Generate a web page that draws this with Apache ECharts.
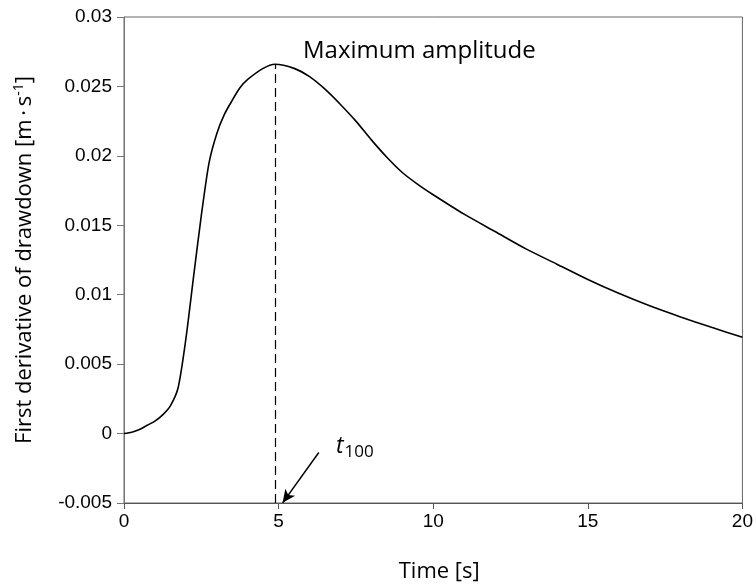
<!DOCTYPE html>
<html><head><meta charset="utf-8">
<script src="https://cdn.jsdelivr.net/npm/echarts@6/dist/echarts.min.js"></script>
<style>html,body{margin:0;padding:0;background:#fff}#c{width:756px;height:588px}</style>
</head><body><div id="c"></div>
<script>
var timeS = [0,0.25,0.5,0.75,1.0,1.25,1.5,1.75,2.0,2.25,2.5,2.75,3.0,3.25,3.5,3.75,4.0,4.5,4.88,5.5,6.0,6.5,7.0,7.5,8.0,8.5,9.0,9.5,10,11,12,13,14,15,16,17,18,19,20];
var deriv = [0,0.0001,0.0003,0.0006,0.0009,0.00135,0.0020,0.0033,0.0068,0.0113,0.0157,0.0195,0.0216,0.0230,0.0240,0.0249,0.0255,0.0263,0.0266,0.0263,0.0257,0.0248,0.0237,0.0225,0.02115,0.0199,0.0188,0.01795,0.0172,0.0158,0.01455,0.0133,0.0122,0.0111,0.0101,0.0092,0.0084,0.00765,0.00693];
var xTicks = [0,5,10,15,20];
var yTicks = [-0.005,0,0.005,0.01,0.015,0.02,0.025,0.03];
var peakT = 4.88, peakV = 0.0266;
var arrowFrom = [6.3,-0.00136], arrowTo = [5.13,-0.00499];

var data = timeS.map(function(t,i){return [t,deriv[i]];});
var chart = echarts.init(document.getElementById('c'));
var tickFont = {fontFamily:'Liberation Sans, Arial', fontSize:19, color:'#000'};
chart.setOption({
  animation:false,
  grid:{left:124, top:17, width:620, height:490, show:true, borderColor:'#666', borderWidth:1},
  xAxis:{type:'value', min:0, max:20, interval:5,
    name:'Time [s]', nameLocation:'middle', nameGap:58,
    nameTextStyle:{fontFamily:'Open Sans', fontSize:22, color:'#000', padding:[0,0,0,12]},
    axisLine:{onZero:false, lineStyle:{color:'#555'}},
    axisTick:{show:true, inside:false, length:6, lineStyle:{color:'#555'}},
    axisLabel:Object.assign({margin:9, formatter:function(v){return xTicks.indexOf(v)>=0?String(v):'';}}, tickFont),
    splitLine:{show:false}},
  yAxis:{type:'value', min:-0.005, max:0.03, interval:0.005,
    name:'{a|First derivative of drawdown [m\u2009\u00b7\u2009s}{s|-1}{a|]}', nameLocation:'middle', nameGap:86,
    nameTextStyle:{rich:{a:{fontFamily:'Open Sans', fontSize:22, color:'#000'}, s:{fontFamily:'Open Sans', fontSize:14, color:'#000', verticalAlign:'top', padding:[0,0,12,0]}}},
    axisLine:{onZero:false, lineStyle:{color:'#777'}},
    axisTick:{show:true, inside:false, length:7, lineStyle:{color:'#777'}},
    axisLabel:Object.assign({margin:12, formatter:function(v){
      var r = Math.round(v*1000)/1000; return yTicks.indexOf(r)>=0?String(r):'';}}, tickFont),
    splitLine:{show:false}},
  title:{text:'Maximum amplitude', left:298, top:34, textStyle:{fontFamily:'Open Sans', fontSize:24, fontWeight:'normal', color:'#000'}},
  graphic:[{type:'text', left:336, top:435, style:{rich:{t:{fontFamily:'Open Sans', fontStyle:'italic', fontSize:23, fill:'#000'}, s:{fontFamily:'Open Sans', fontSize:17, fill:'#000', padding:[12,0,0,1]}}, text:'{t|t}{s|100}'}}],
  series:[{type:'line', data:data, smooth:0.25, showSymbol:false, lineStyle:{color:'#000', width:1.6},
    markLine:{silent:true, symbol:['none','none'], label:{show:false},
      data:[
        [{coord:[peakT,-0.005], lineStyle:{type:[9,5], color:'#000', width:1.2}},{coord:[peakT,peakV]}],
        [{coord:arrowFrom, symbol:'none', lineStyle:{type:'solid', color:'#000', width:1.5}},{coord:arrowTo, symbol:'arrow', symbolSize:[9,13]}]
      ]}}]
});
</script></body></html>
